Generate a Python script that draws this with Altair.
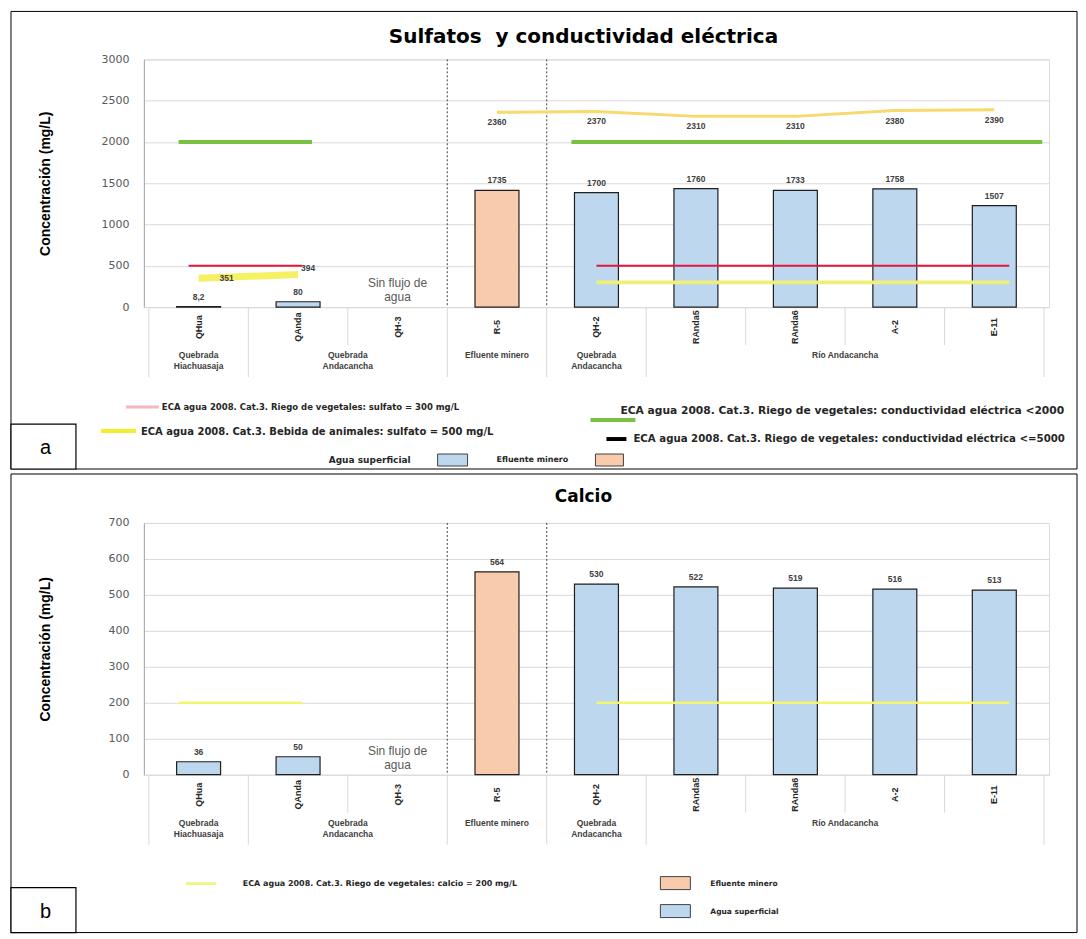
import altair as alt
import pandas as pd

# ---------------- data ----------------
stations = ["QHua", "QAnda", "QH-3", "R-5", "QH-2", "RAnda5", "RAnda6", "A-2", "E-11"]
tipo = ["Agua superficial", "Agua superficial", None, "Efluente minero", "Agua superficial",
        "Agua superficial", "Agua superficial", "Agua superficial", "Agua superficial"]
grupo = ["Quebrada|Hiachuasaja", "Quebrada|Andacancha", "Quebrada|Andacancha", "Efluente minero",
         "Quebrada|Andacancha", "Río Andacancha", "Río Andacancha", "Río Andacancha", "Río Andacancha"]
sulfato = [8.2, 80, None, 1735, 1700, 1760, 1733, 1758, 1507]
sulfato_txt = ["8,2", "80", None, "1735", "1700", "1760", "1733", "1758", "1507"]
conductividad = [351, 394, None, 2360, 2370, 2310, 2310, 2380, 2390]
calcio = [36, 50, None, 564, 530, 522, 519, 516, 513]
calcio_txt = ["36", "50", None, "564", "530", "522", "519", "516", "513"]
eca_sulfato_300 = 300
eca_sulfato_500 = 500
eca_conductividad = 2000
eca_calcio = 200
ticks_sulfato = [0, 500, 1000, 1500, 2000, 2500, 3000]
ticks_calcio = [0, 100, 200, 300, 400, 500, 600, 700]
sin_flujo = ["Sin flujo de", "agua"]

# ---------------- layout constants ----------------
W = 906
H1 = 248
H2 = 252
FONT = "Liberation Sans"
WIDE = "DejaVu Sans"
NARROW = "Liberation Sans Narrow, Liberation Sans"
BLUE = "#BDD7EE"
ORANGE = "#F8CBAD"
DARK = "#262626"

idx = list(range(len(stations)))
one = pd.DataFrame({"k": [0]})

runs = []
for i, g in enumerate(grupo):
    if runs and runs[-1]["g"] == g and runs[-1]["end"] == i - 1:
        runs[-1]["end"] = i
    else:
        runs.append({"g": g, "start": i, "end": i})
grp_df = pd.DataFrame({"pos": [(r["start"] + r["end"]) / 2 for r in runs],
                       "lab": [r["g"].split("|") for r in runs]})
major = sorted(set([r["start"] - 0.5 for r in runs] + [runs[-1]["end"] + 0.5]))
minor = [i - 0.5 for i in idx[1:] if (i - 0.5) not in major]
ef = tipo.index("Efluente minero")
separadores = [ef - 0.5, ef + 0.5]
sf = tipo.index(None)


def X(field="idx"):
    return alt.X(f"{field}:Q", scale=alt.Scale(domain=[-0.5, len(stations) - 0.5], nice=False, zero=False),
                 axis=None)


def Y(field, domain):
    return alt.Y(f"{field}:Q", scale=alt.Scale(domain=domain, nice=False, zero=True), axis=None)


def txt(s, x, y, size=9, weight="bold", color=DARK, align="left", font=WIDE, baseline="middle"):
    return alt.Chart(one).mark_text(text=s, align=align, baseline=baseline, fontSize=size, fontWeight=weight,
                                    color=color, font=font).encode(x=alt.value(x), y=alt.value(y))


def hline(x1, x2, y, color, width, opacity=1.0):
    return alt.Chart(one).mark_rule(color=color, strokeWidth=width, opacity=opacity).encode(
        x=alt.value(x1), x2=alt.value(x2), y=alt.value(y))


def box(x1, x2, y1, y2, fill, stroke, width=1.0):
    return alt.Chart(one).mark_rect(fill=fill, stroke=stroke, strokeWidth=width).encode(
        x=alt.value(x1), x2=alt.value(x2), y=alt.value(y1), y2=alt.value(y2))


def seg(i0, i1, val, dom, color, width, off0, off1, opacity=1.0):
    d = pd.DataFrame({"x0": [i0], "x1": [i1], "v": [val]})
    return alt.Chart(d).mark_rule(color=color, strokeWidth=width, xOffset=off0, x2Offset=off1,
                                  opacity=opacity).encode(x=X("x0"), x2=alt.X2("x1"), y=Y("v", dom))


def axis_layer(values, dom, H):
    d = pd.DataFrame({"v": values})
    ax = alt.Axis(values=values, title="Concentración (mg/L)", orient="left", grid=True,
                  gridColor="#D9D9D9", domainColor="#A6A6A6", ticks=False, labelPadding=15,
                  labelFont=WIDE, labelFontSize=11, labelColor="#595959", format="d",
                  titleFont=NARROW, titleFontSize=14, titleFontWeight="bold", titleColor="#000000",
                  titleX=-98, titleY=H / 2, titleAngle=270, titleBaseline="middle", titleAlign="center")
    return alt.Chart(d).mark_point(opacity=0).encode(
        y=alt.Y("v:Q", scale=alt.Scale(domain=dom, nice=False, zero=True), axis=ax))


def common(df, H, bar_dom, title, title_y, title_size):
    layers = []
    sep = pd.DataFrame({"b": separadores})
    layers.append(alt.Chart(sep).mark_rule(color="#404040", strokeDash=[2, 2], strokeWidth=1).encode(
        x=X("b"), y=alt.value(0), y2=alt.value(H)))
    layers.append(alt.Chart(pd.DataFrame({"b": minor})).mark_rule(color="#D9D9D9", strokeWidth=1).encode(
        x=X("b"), y=alt.value(H), y2=alt.value(H + 38)))
    layers.append(alt.Chart(pd.DataFrame({"b": major})).mark_rule(color="#D9D9D9", strokeWidth=1).encode(
        x=X("b"), y=alt.value(H), y2=alt.value(H + 70)))
    layers.append(alt.Chart(df).transform_filter("isValid(datum.val)").mark_bar(
        size=44, stroke="#1f1f1f", strokeWidth=1.2).encode(
        x=X(), y=Y("val", bar_dom),
        color=alt.Color("tipo:N", scale=alt.Scale(domain=["Agua superficial", "Efluente minero"],
                                                  range=[BLUE, ORANGE]), legend=None)))
    layers.append(alt.Chart(df).transform_filter("isValid(datum.val)").mark_text(
        dy=-10, fontSize=8.5, fontWeight="bold", color="#404040", font=FONT).encode(
        x=X(), y=Y("val", bar_dom), text="txt:N"))
    layers.append(alt.Chart(df).mark_text(angle=270, fontSize=9, fontWeight="bold", color=DARK, font=NARROW,
                                          align="center", baseline="middle").encode(
        x=X(), y=alt.value(H + 20), text="station:N"))
    layers.append(alt.Chart(grp_df).mark_text(fontSize=8.5, fontWeight="bold", color="#404040", font=FONT,
                                              align="center", baseline="top", lineHeight=11).encode(
        x=X("pos"), y=alt.value(H + 44), text="lab"))
    layers.append(alt.Chart(pd.DataFrame({"i": [sf]})).mark_text(
        text=sin_flujo, fontSize=12, color="#595959", font=FONT, align="center", baseline="middle",
        lineHeight=14).encode(x=X("i"), y=alt.value(H - 24)))
    layers.append(txt(title, 440, title_y, size=title_size, align="center", color="#000000"))
    return layers


# ---------------- top panel ----------------
dfa = pd.DataFrame({"idx": idx, "station": stations, "tipo": tipo, "val": sulfato, "txt": sulfato_txt,
                    "cond": conductividad, "cond_txt": [None if v is None else str(v) for v in conductividad]})
domA = [0, 3000]
barA = [0, 3680]

top_layers = [box(-133, 934, -48, 410, "transparent", "#000000", 1), axis_layer(ticks_sulfato, domA, H1)]
top_layers += common(dfa, H1, barA, "Sulfatos\u00a0 y conductividad eléctrica", -22, 20)
top_layers += [
    seg(0, 1, eca_conductividad, domA, "#7AC143", 4, -20, 14),
    seg(4, 8, eca_conductividad, domA, "#7AC143", 4, -25, 48),
    seg(0, 1, eca_sulfato_500, domA, "#E3173E", 2, -10, 4),
    seg(4, 8, eca_sulfato_500, domA, "#E3173E", 2, 0, 15),
    seg(4, 8, eca_sulfato_300, domA, "#EEF07A", 4, 0, 15),
    alt.Chart(dfa).transform_filter("datum.idx < 2").mark_line(color="#F2EE4A", strokeWidth=7,
                                                               opacity=0.85).encode(x=X(), y=Y("cond", domA)),
    alt.Chart(dfa).transform_filter("datum.idx > 2").mark_line(color="#F7D96E", strokeWidth=3).encode(
        x=X(), y=Y("cond", domA)),
    alt.Chart(dfa).transform_filter("datum.idx > 2").mark_text(
        dy=10, fontSize=8.5, fontWeight="bold", color="#404040", font=FONT).encode(
        x=X(), y=Y("cond", domA), text="cond_txt:N"),
    alt.Chart(dfa).transform_filter("datum.idx == 0").mark_text(
        dx=28, fontSize=8.5, fontWeight="bold", color="#404040", font=FONT).encode(
        x=X(), y=Y("cond", domA), text="cond_txt:N"),
    alt.Chart(dfa).transform_filter("datum.idx == 1").mark_text(
        dx=10, dy=-7, fontSize=8.5, fontWeight="bold", color="#404040", font=FONT).encode(
        x=X(), y=Y("cond", domA), text="cond_txt:N"),
    # legend
    hline(-18, 15, 348, "#F4B6C2", 3),
    txt("ECA agua 2008. Cat.3. Riego de vegetales: sulfato = 300 mg/L", 18, 348, size=8.5),
    hline(-43, -8, 372, "#F2EF2C", 4),
    txt("ECA agua 2008. Cat.3. Bebida de animales: sulfato = 500 mg/L", -3, 373, size=10),
    txt("ECA agua 2008. Cat.3. Riego de vegetales: conductividad eléctrica <2000", 477, 352, size=10.7),
    hline(447, 492, 361, "#7AC143", 4),
    hline(463, 483, 380, "#000000", 4),
    txt("ECA agua 2008. Cat.3. Riego de vegetales: conductividad eléctrica <=5000", 490, 380, size=10.2),
    txt("Agua superficial", 267, 401, size=9, align="right"),
    box(294, 324, 395, 407, BLUE, "#404040"),
    txt("Efluente minero", 353, 401, size=8),
    box(452, 480, 395, 407, ORANGE, "#404040"),
    box(-133, -68, 365, 410, "#FFFFFF", "#000000", 1.2),
    txt("a", -104, 389, size=20, weight="normal", color="#000000", font=FONT),
]
top = alt.layer(*top_layers).resolve_scale(y="independent").properties(width=W, height=H1)

# ---------------- bottom panel ----------------
dfb = pd.DataFrame({"idx": idx, "station": stations, "tipo": tipo, "val": calcio, "txt": calcio_txt})
domB = [0, 700]

bot_layers = [box(-133, 934, -49, 410, "transparent", "#000000", 1), axis_layer(ticks_calcio, domB, H2)]
bot_layers += common(dfb, H2, domB, "Calcio", -26, 17)
bot_layers += [
    seg(0, 1, eca_calcio, domB, "#F3F56E", 2.5, -20, 4),
    seg(4, 8, eca_calcio, domB, "#F3F56E", 2.5, 0, 15),
    hline(42, 72, 361, "#F0F58A", 3),
    txt("ECA agua 2008. Cat.3. Riego de vegetales: calcio = 200 mg/L", 99, 361, size=8),
    box(517, 547, 354, 367, ORANGE, "#404040"),
    txt("Efluente minero", 567, 361, size=7.5),
    box(517, 547, 382, 395, BLUE, "#404040"),
    txt("Agua superficial", 567, 389, size=7.5),
    box(-133, -68, 365, 410, "#FFFFFF", "#000000", 1.2),
    txt("b", -104, 389, size=20, weight="normal", color="#000000", font=FONT),
]
bottom = alt.layer(*bot_layers).resolve_scale(y="independent").properties(width=W, height=H2)

chart = alt.vconcat(top, bottom, spacing=2).properties(
    padding={"left": 1, "top": 2, "right": 0, "bottom": 0}
).configure_view(stroke="#A0A0A0", strokeWidth=1).configure(background="#FFFFFF")

chart.save("out.html", embed_options={"renderer": "svg", "actions": False})
